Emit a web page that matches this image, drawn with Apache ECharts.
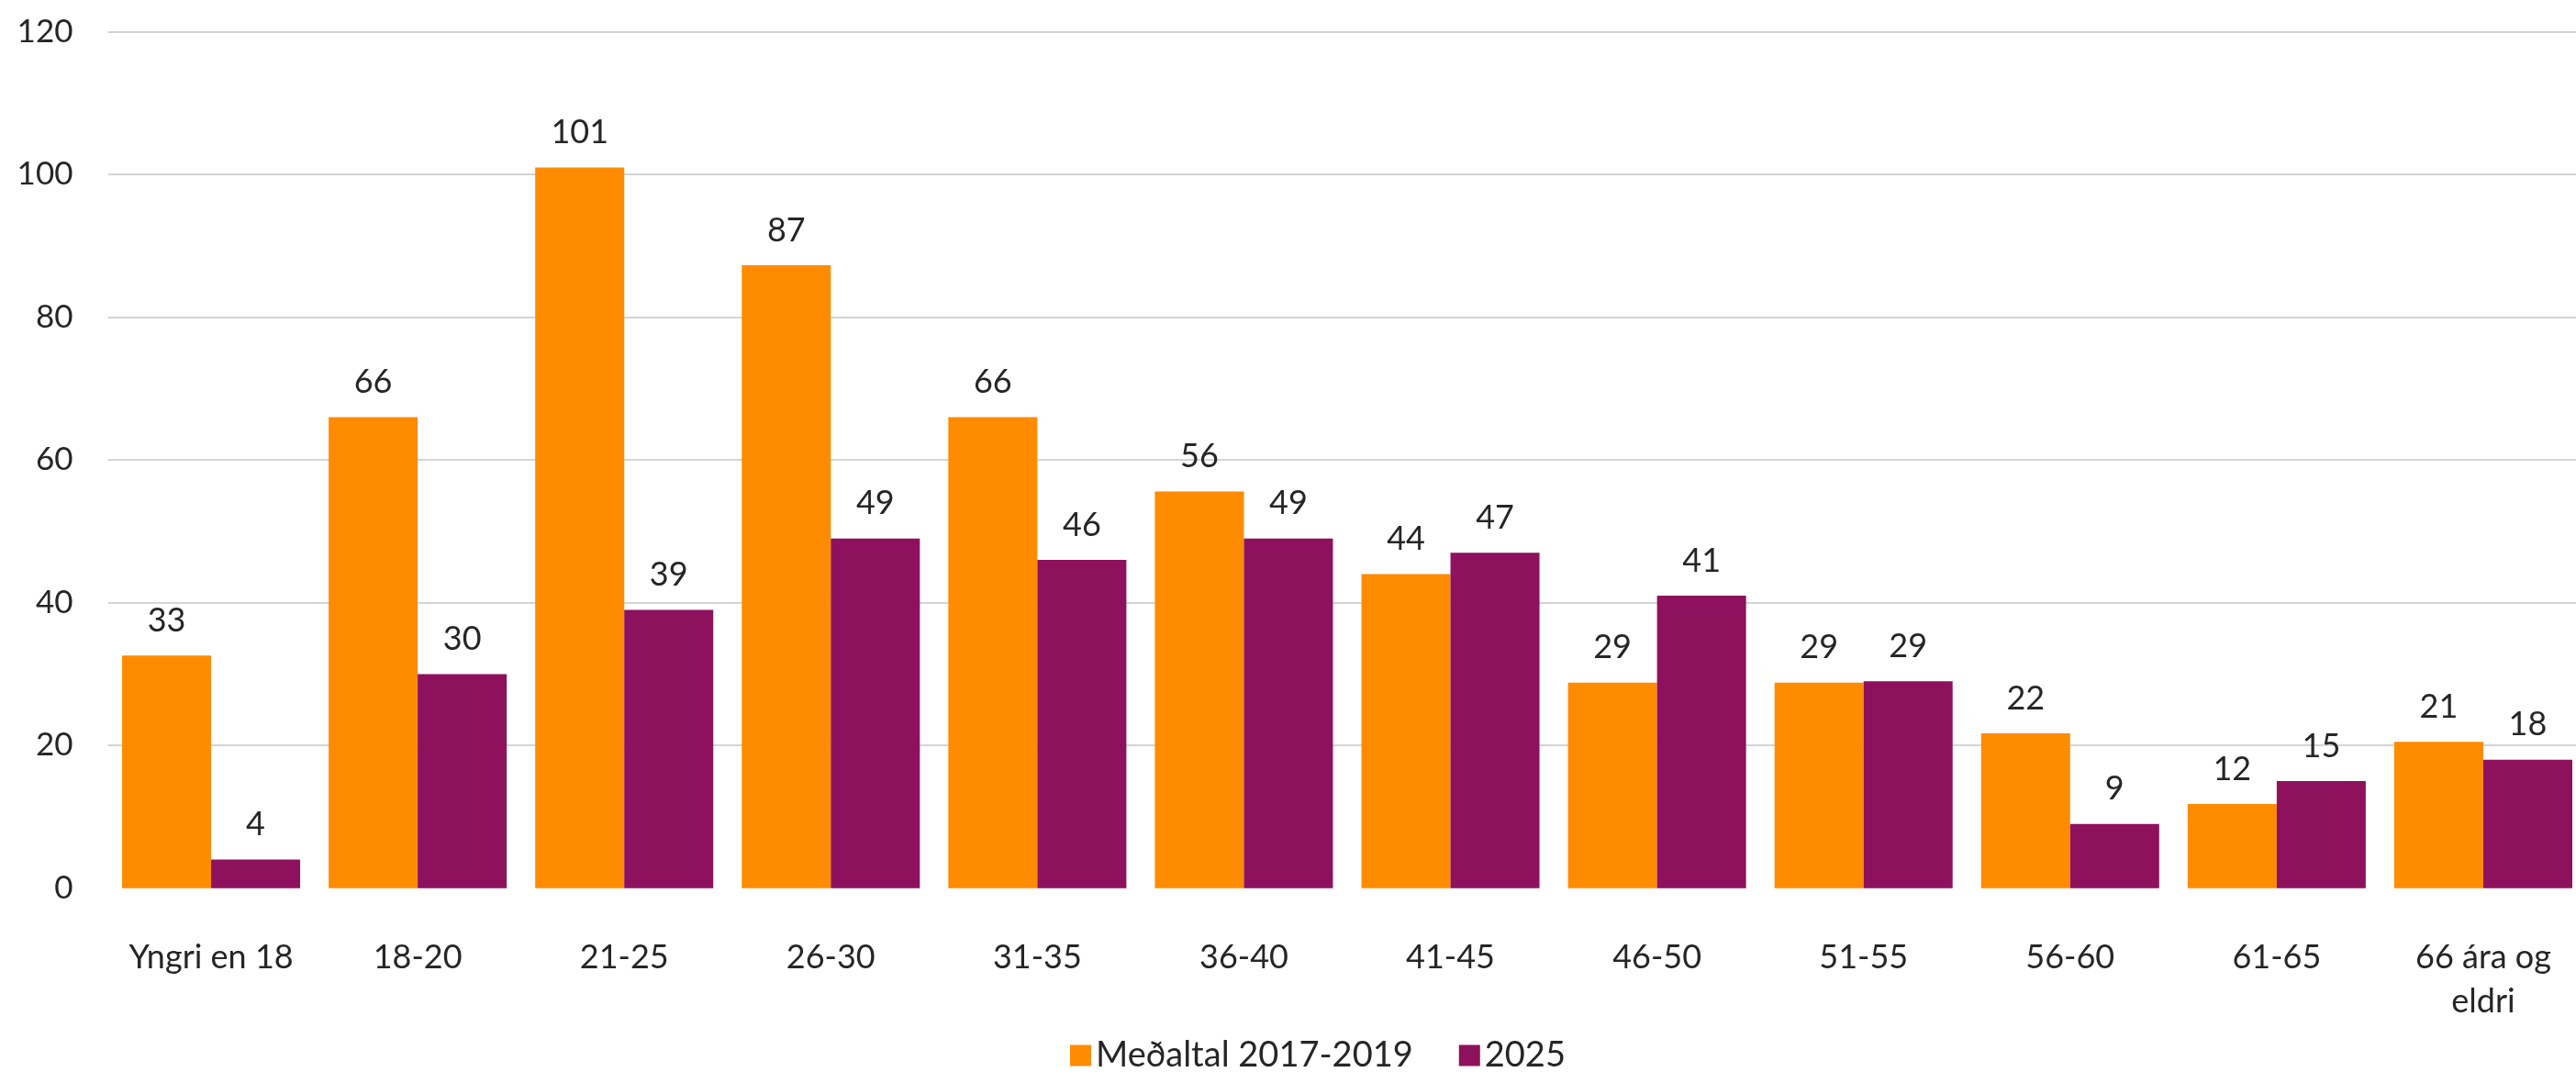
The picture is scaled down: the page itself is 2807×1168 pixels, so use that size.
<!DOCTYPE html>
<html>
<head>
<meta charset="utf-8">
<script src="https://cdn.jsdelivr.net/npm/echarts@6/dist/echarts.min.js"></script>
<style>
  html, body { margin: 0; padding: 0; background: #ffffff; }
  #chart { width: 2807px; height: 1168px; }
</style>
</head>
<body>
<div id="chart"></div>
<script>
// ---- Data ----
const categories = ['Yngri en 18', '18-20', '21-25', '26-30', '31-35', '36-40', '41-45', '46-50', '51-55', '56-60', '61-65', '66 ára og\neldri'];
const seriesNames = ['Meðaltal 2017-2019', '2025'];
const avg2017_2019 = [32.6, 66, 101, 87.3, 66, 55.6, 44, 28.8, 28.8, 21.7, 11.8, 20.5];
const values2025 = [4, 30, 39, 49, 46, 49, 47, 41, 29, 9, 15, 18];
const yTicks = { min: 0, max: 120, interval: 20 };

// ---- Style ----
const colors = ['#FF8B00', '#8E115E'];
const textColor = '#262626';
const fontFamily = 'Lato, "Open Sans", sans-serif';

const chart = echarts.init(document.getElementById('chart'), null, { renderer: 'canvas' });

const labelCfg = {
  show: true,
  position: 'top',
  distance: 20,
  color: textColor,
  fontFamily: fontFamily,
  fontSize: 36,
  formatter: p => Math.round(p.value)
};

chart.setOption({
  animation: false,
  backgroundColor: '#ffffff',
  textStyle: { fontFamily: fontFamily, color: textColor },
  grid: {
    left: 117.5, width: 2701, top: 34.7, bottom: 200.3,
    containLabel: false,
    outerBoundsMode: 'none'
  },
  legend: {
    data: seriesNames,
    left: 1166,
    top: 1131,
    padding: 0,
    itemWidth: 23,
    itemHeight: 23,
    itemGap: 50,
    icon: 'rect',
    textStyle: { color: textColor, fontFamily: fontFamily, fontSize: 38 }
  },
  xAxis: {
    type: 'category',
    data: categories,
    axisLine: { show: false },
    axisTick: { show: false },
    axisLabel: {
      color: textColor,
      fontFamily: fontFamily,
      fontSize: 36,
      lineHeight: 48,
      margin: 52,
      interval: 0
    }
  },
  yAxis: {
    type: 'value',
    min: yTicks.min,
    max: yTicks.max,
    interval: yTicks.interval,
    axisLine: { show: false },
    axisTick: { show: false },
    axisLabel: {
      color: textColor,
      fontFamily: fontFamily,
      fontSize: 35,
      margin: 38
    },
    splitLine: { show: true, showMinLine: false, lineStyle: { color: '#c6c6c6', width: 1.5 } }
  },
  series: [
    {
      name: seriesNames[0],
      type: 'bar',
      data: avg2017_2019,
      itemStyle: { color: colors[0] },
      barGap: '0%',
      barCategoryGap: '13.8%',
      label: labelCfg
    },
    {
      name: seriesNames[1],
      type: 'bar',
      data: values2025,
      itemStyle: { color: colors[1] },
      barGap: '0%',
      barCategoryGap: '13.8%',
      label: labelCfg
    }
  ]
});
</script>
</body>
</html>
